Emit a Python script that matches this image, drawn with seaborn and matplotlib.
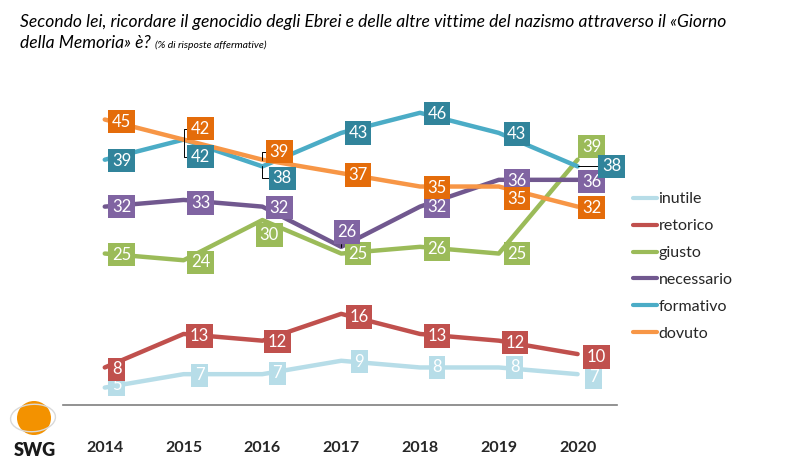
import matplotlib
matplotlib.use("Agg")
import matplotlib.pyplot as plt
import seaborn as sns
import pandas as pd
from matplotlib.patches import Ellipse

# dati
anni = [2014, 2015, 2016, 2017, 2018, 2019, 2020]
serie = ["inutile", "retorico", "giusto", "necessario", "formativo", "dovuto"]
inutile = [5, 7, 7, 9, 8, 8, 7]
retorico = [8, 13, 12, 16, 13, 12, 10]
giusto = [25, 24, 30, 25, 26, 25, 39]
necessario = [32, 33, 32, 26, 32, 36, 36]
formativo = [39, 42, 38, 43, 46, 43, 38]
dovuto = [45, 42, 39, 37, 35, 35, 32]
valori = [inutile, retorico, giusto, necessario, formativo, dovuto]

# colori linee / etichette
col_linea = {"inutile": "#b7dde8", "retorico": "#c0504d", "giusto": "#9bbb59",
             "necessario": "#71588f", "formativo": "#4bacc6", "dovuto": "#f79646"}
col_box = {"inutile": "#b7dde8", "retorico": "#c0504d", "giusto": "#9bbb59",
           "necessario": "#8064a2", "formativo": "#31849b", "dovuto": "#e46c0a"}

# spostamento delle etichette (pixel: dx, dy verso l'alto)
spost = {
    "inutile":    [(12, 3), (16, -1), (15, 1), (18, -1), (17, 0), (16, 0), (16, -3)],
    "retorico":   [(12, -2), (16, -2), (15, -1), (18, -3), (17, -2), (16, -2), (19, -3)],
    "giusto":     [(17, -1), (17, -2), (7, -15), (17, 0), (17, -2), (18, 0), (14, 13)],
    "necessario": [(17, 0), (17, -3), (17, -1), (6, 15), (17, 0), (18, -1), (14, -2)],
    "formativo":  [(17, -1), (17, -17), (20, -12), (17, 0), (17, -1), (18, -1), (34, 0)],
    "dovuto":     [(17, -2), (17, 11), (17, 8), (17, -2), (17, -1), (18, -12), (14, -1)],
}
# etichette con linea di richiamo
richiami = {("dovuto", 1): (0, 0.5), ("formativo", 1): (0, 0.5),
            ("dovuto", 2): (0, 0.5), ("formativo", 2): (0, 0.5),
            ("necessario", 3): (0.2, 0), ("formativo", 6): (0, 0.5)}

df = pd.DataFrame([(a, s, v[i]) for s, v in zip(serie, valori) for i, a in enumerate(anni)],
                  columns=["anno", "serie", "valore"])

sns.set_style("white")
plt.rcParams["font.family"] = ["Lato", "DejaVu Sans"]

fig = plt.figure(figsize=(7.9, 4.65), dpi=100)
ax = fig.add_axes([63 / 790, 1 - 405 / 465, 554 / 790, 319 / 465])

sns.lineplot(data=df, x="anno", y="valore", hue="serie", hue_order=serie,
             palette=col_linea, linewidth=3.2, ax=ax, sort=False,
             solid_capstyle="round")

for s, v in zip(serie, valori):
    for i, (a, y) in enumerate(zip(anni, v)):
        dx, dy = spost[s][i]
        kw = {}
        if (s, i) in richiami:
            kw["arrowprops"] = dict(arrowstyle="-", color="black", lw=0.7,
                                    shrinkA=0, shrinkB=0,
                                    relpos=richiami[(s, i)],
                                    connectionstyle="angle,angleA=0,angleB=90,rad=0")
        ax.annotate(str(y), xy=(a, y), xytext=(dx, dy), textcoords="offset pixels",
                    ha="center", va="center", color="white", fontsize=12,
                    bbox=dict(boxstyle="square,pad=0.22", fc=col_box[s], ec="none"),
                    zorder=5, **kw)

ax.set_xlim(2013.47, 2020.5)
ax.set_ylim(2.4, 50)
ax.set_xticks(anni)
ax.set_xticklabels([str(a) for a in anni], fontsize=11.5, fontweight="bold", color="#262626")
ax.tick_params(axis="x", length=0, pad=26)
ax.set_yticks([])
ax.set_xlabel("")
ax.set_ylabel("")
for lato in ["top", "left", "right"]:
    ax.spines[lato].set_visible(False)
ax.spines["bottom"].set_color("#7f7f7f")
ax.spines["bottom"].set_linewidth(1.2)

sns.move_legend(ax, "upper left", bbox_to_anchor=(633 / 790, 1 - 192 / 465),
                bbox_transform=fig.transFigure, frameon=False, title=None,
                fontsize=11.5, handlelength=1.5, handletextpad=0.1,
                labelspacing=0.8, borderpad=0, borderaxespad=0)
for h in ax.get_legend().get_lines():
    h.set_linewidth(3)

# titolo
fig.text(20 / 790, 1 - 27 / 465,
         "Secondo lei, ricordare il genocidio degli Ebrei e delle altre vittime del nazismo attraverso il \u00abGiorno",
         fontsize=12.6, style="italic", va="baseline", color="black")
t2 = fig.text(20 / 790, 1 - 48 / 465, "della Memoria\u00bb \u00e8?",
              fontsize=12.6, style="italic", va="baseline", color="black")
fig.canvas.draw()
bb = t2.get_window_extent()
fig.text(bb.x1 / 790 + 4 / 790, 1 - 48 / 465, "(% di risposte affermative)",
         fontsize=7.5, style="italic", va="baseline", color="black")

# logo SWG
fig.patches.append(Ellipse((34 / 790, 1 - 418 / 465), 34 / 790, 34 / 465,
                           transform=fig.transFigure, fc="#f39200", ec="none", zorder=1))
fig.patches.append(Ellipse((33 / 790, 1 - 418 / 465), 44 / 790, 28 / 465, angle=-30,
                           transform=fig.transFigure, fc="none", ec="#d9d9d9", lw=1.0, zorder=2))
fig.text(35 / 790, 1 - 456 / 465, "SWG", fontsize=13, fontweight="heavy",
         ha="center", va="baseline", color="#1a1a1a")

fig.savefig("out.png", dpi=100)
